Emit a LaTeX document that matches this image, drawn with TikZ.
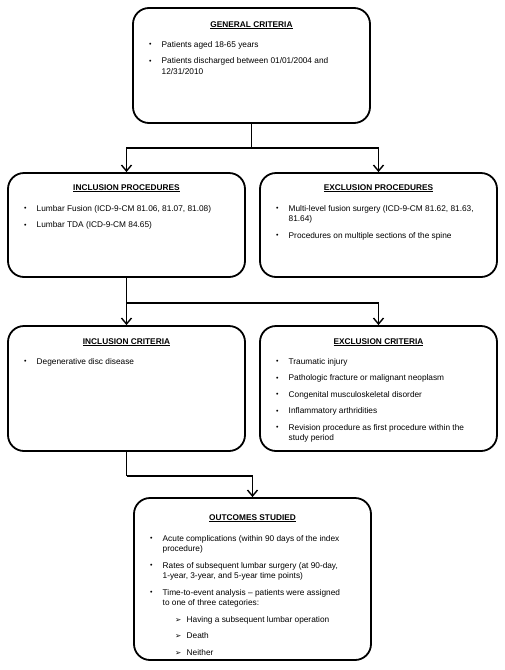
\documentclass[tikz,border=0pt]{standalone}
\usepackage{fontspec}
\setmainfont{Liberation Sans}
\newfontfamily\symfont{DejaVu Sans}
\usetikzlibrary{arrows.meta}
\newcommand\bul{\raisebox{0.4pt}{\fontsize{7}{7}\selectfont\textbullet}}
\newcommand\subarr{{\symfont\fontsize{7.5}{7.5}\selectfont ➢}}
\newcommand\itm[1]{\par\hangindent=12.5pt\hangafter=1\noindent\makebox[12.5pt][l]{\bul}#1\par\vspace{6pt}}
\newcommand\sitm[1]{\par\noindent\hspace*{25pt}\makebox[11.5pt][l]{\subarr}#1\par\vspace{6pt}}
\newcommand\ttl[1]{\textbf{\underline{#1}}}
\begin{document}
\begin{tikzpicture}[x=1pt,y=-1pt,
  font=\fontsize{8.3}{10.5}\selectfont,
  box/.style={draw, line width=1.8pt, rounded corners=16pt, minimum width=237pt, inner sep=0pt},
  lst/.style={inner sep=0pt, anchor=base west, align=left},
  ttlnode/.style={inner sep=0pt, anchor=base},
  conn/.style={line width=1.4pt},
  arr/.style={conn, -{Straight Barb[length=6pt,width=10pt,line width=1.4pt]}}]
\useasboundingbox (0,0) rectangle (505,670);
\node[box, minimum height=115pt] (gc) at (251.5,65.5) {};
\node[box, minimum height=104pt] (ip) at (126.5,225) {};
\node[box, minimum height=104pt] (ep) at (378.5,225) {};
\node[box, minimum height=125pt] (ic) at (126.5,388.5) {};
\node[box, minimum height=125pt] (ec) at (378.5,388.5) {};
\node[box, minimum height=162pt] (os) at (252.5,579) {};

\node[ttlnode] (gct) at (251.5,27) {\ttl{GENERAL CRITERIA}};
\node[lst] (gcl) at (149,47) {\begin{minipage}[t]{215pt}
\itm{Patients aged 18-65 years}
\itm{Patients discharged between 01/01/2004 and\\12/31/2010}
\end{minipage}};

\node[ttlnode] (ipt) at (126.5,190) {\ttl{INCLUSION PROCEDURES}};
\node[lst] (ipl) at (24,211) {\begin{minipage}[t]{215pt}
\itm{Lumbar Fusion (ICD-9-CM 81.06, 81.07, 81.08)}
\itm{Lumbar TDA (ICD-9-CM 84.65)}
\end{minipage}};

\node[ttlnode] (ept) at (378.5,190) {\ttl{EXCLUSION PROCEDURES}};
\node[lst] (epl) at (276,211) {\begin{minipage}[t]{215pt}
\itm{Multi-level fusion surgery (ICD-9-CM 81.62, 81.63,\\81.64)}
\itm{Procedures on multiple sections of the spine}
\end{minipage}};

\node[ttlnode] (ict) at (126.5,344) {\ttl{INCLUSION CRITERIA}};
\node[lst] (icl) at (24,364) {\begin{minipage}[t]{215pt}
\itm{Degenerative disc disease}
\end{minipage}};

\node[ttlnode] (ect) at (378.5,344) {\ttl{EXCLUSION CRITERIA}};
\node[lst] (ecl) at (276,364) {\begin{minipage}[t]{215pt}
\itm{Traumatic injury}
\itm{Pathologic fracture or malignant neoplasm}
\itm{Congenital musculoskeletal disorder}
\itm{Inflammatory arthridities}
\itm{Revision procedure as first procedure within the\\study period}
\end{minipage}};

\node[ttlnode] (ost) at (252.5,520) {\ttl{OUTCOMES STUDIED}};
\node[lst] (osl) at (150,541) {\begin{minipage}[t]{215pt}
\itm{Acute complications (within 90 days of the index\\procedure)}
\itm{Rates of subsequent lumbar surgery (at 90-day,\\1-year, 3-year, and 5-year time points)}
\itm{Time-to-event analysis – patients were assigned\\to one of three categories:}
\sitm{Having a subsequent lumbar operation}
\sitm{Death}
\sitm{Neither}
\end{minipage}};

\path (gc.south) ++(0,24) coordinate (j1);
\draw[conn] (gc.south) -- (j1);
\draw[arr] (j1) -| (ip.north);
\draw[arr] (j1) -| (ep.north);
\path (ip.south) ++(0,25) coordinate (j2);
\draw[arr] (ip.south) -- (ic.north);
\draw[arr] (j2) -| (ec.north);
\path (ic.south) ++(0,24) coordinate (j3);
\draw[conn] (ic.south) -- (j3);
\draw[arr] (j3) -| (os.north);
\end{tikzpicture}
\end{document}
